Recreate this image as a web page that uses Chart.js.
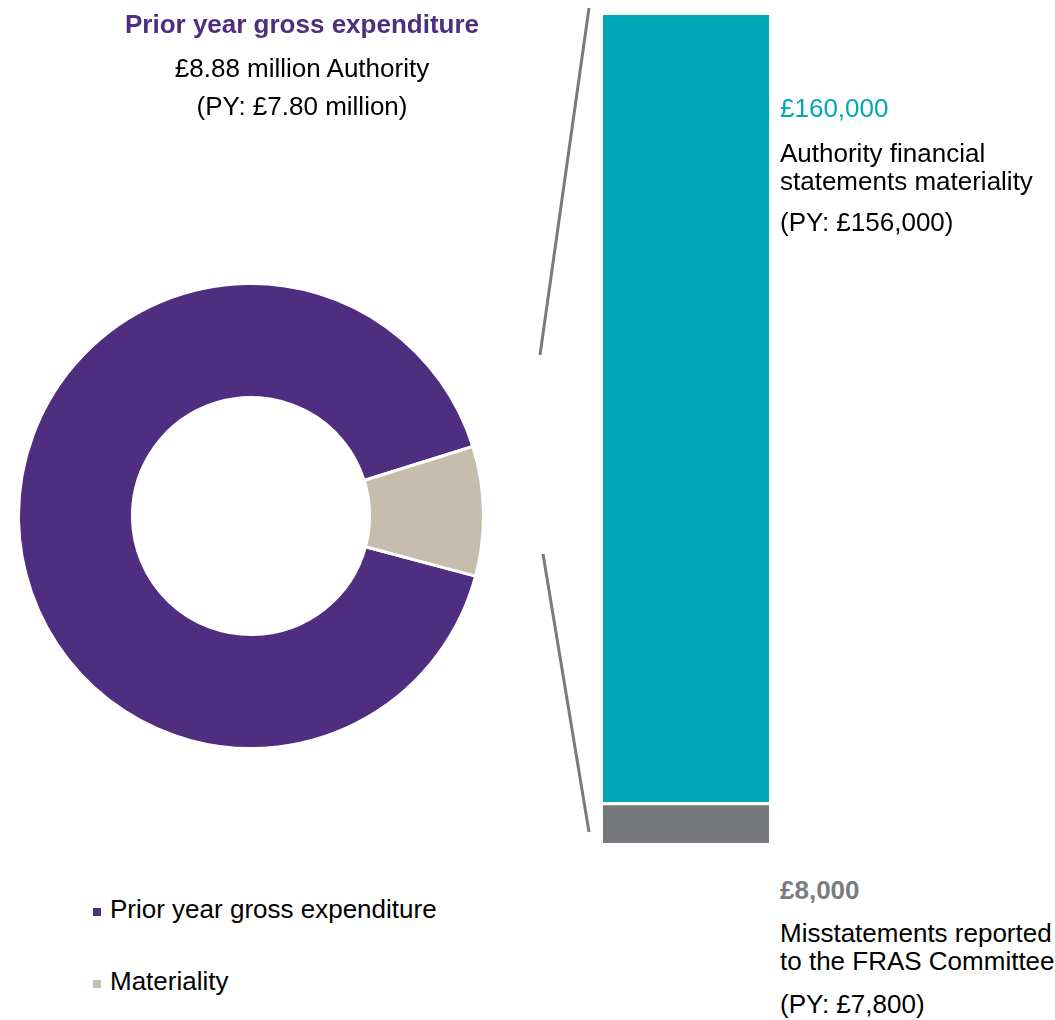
<!DOCTYPE html>
<html>
<head>
<meta charset="utf-8">
<script src="https://cdn.jsdelivr.net/npm/chart.js@4"></script>
<style>
	body { margin: 0; background: #fff; }
	#page { position: relative; width: 1055px; height: 1020px; overflow: hidden; font-family: "Liberation Sans", Arial, sans-serif; font-size: 26px; color: #000; }
	#page canvas { position: absolute; }
	.txt { position: absolute; line-height: 30px; white-space: nowrap; }
	.center { text-align: center; width: 600px; margin-left: -300px; }
	.sq { position: absolute; width: 8px; height: 8px; }
</style>
</head>
<body>
<div id="page">
	<canvas id="donut" width="468" height="468" style="left:16.5px; top:281.5px;"></canvas>
	<canvas id="bar" width="332" height="860" style="left:520px; top:0px;"></canvas>

	<div class="txt center" style="left:302px; top:9px; font-weight:bold; color:#4f2d7f;">Prior year gross expenditure</div>
	<div class="txt center" style="left:302px; top:53px;">£8.88 million Authority</div>
	<div class="txt center" style="left:302px; top:91px;">(PY: £7.80 million)</div>

	<div class="txt" style="left:780px; top:93px; color:#00a7b5;">£160,000</div>
	<div class="txt" style="left:780px; top:138px;">Authority financial</div>
	<div class="txt" style="left:780px; top:166px;">statements materiality</div>
	<div class="txt" style="left:780px; top:207px;">(PY: £156,000)</div>

	<div class="txt" style="left:780px; top:875px; font-weight:bold; color:#7b7c7e;">£8,000</div>
	<div class="txt" style="left:780px; top:918px;">Misstatements reported</div>
	<div class="txt" style="left:780px; top:946px;">to the FRAS Committee</div>
	<div class="txt" style="left:780px; top:989px;">(PY: £7,800)</div>

	<div id="legend"></div>
</div>
<script>
const donutLabels = ["Prior year gross expenditure", "Materiality"];
const donutValues = [91, 9];
const donutColors = ["#4f2d7f", "#c6bdaf"];

const barCategory = ["Materiality"];
const barLabels = ["Misstatements reported to the FRAS Committee", "Authority financial statements materiality"];
const barValues = [8000, 160000];
const barColors = ["#76787b", "#00a9b6"];

// legend drawn as html so it can sit where the reference has it
const legend = document.getElementById("legend");
const legendTops = [894, 966];
donutLabels.forEach((label, i) => {
	const sq = document.createElement("div");
	sq.className = "sq";
	sq.style.left = "93px";
	sq.style.top = (legendTops[i] + 14) + "px";
	sq.style.background = donutColors[i];
	legend.appendChild(sq);

	const t = document.createElement("div");
	t.className = "txt";
	t.style.left = "110px";
	t.style.top = legendTops[i] + "px";
	t.textContent = label;
	legend.appendChild(t);
});

new Chart(document.getElementById("donut"), {
	type: "doughnut",
	data: {
		labels: donutLabels,
		datasets: [{
			data: donutValues,
			backgroundColor: donutColors,
			borderColor: "#ffffff",
			borderWidth: 3,
		}],
	},
	options: {
		responsive: false,
		devicePixelRatio: 1,
		animation: false,
		cutout: "51%",
		rotation: 105,
		plugins: {
			legend: { display: false },
			tooltip: { enabled: false },
		},
	},
});

// the two grey lines that tie the bar back to the doughnut
const connectorLines = {
	id: "connectorLines",
	afterDraw(chart) {
		const meta = chart.getDatasetMeta(1);
		const bar = meta.data[0];
		const yScale = chart.scales.y;
		const left = bar.x - bar.width / 2;
		const top = yScale.getPixelForValue(yScale.max);
		const bottom = yScale.getPixelForValue(0);
		const ctx = chart.ctx;
		ctx.save();
		ctx.strokeStyle = "#7a7a7a";
		ctx.lineWidth = 3;
		ctx.beginPath();
		ctx.moveTo(left - 14, top - 7);
		ctx.lineTo(left - 63, top + 340);
		ctx.moveTo(left - 60, top + 539);
		ctx.lineTo(left - 14, bottom - 11);
		ctx.stroke();
		ctx.restore();
	},
};

new Chart(document.getElementById("bar"), {
	type: "bar",
	data: {
		labels: barCategory,
		datasets: [
			{
				label: barLabels[0],
				data: [barValues[0]],
				backgroundColor: barColors[0],
				borderColor: "#ffffff",
				borderWidth: { top: 2, bottom: 0, left: 0, right: 0 },
				borderSkipped: false,
			},
			{
				label: barLabels[1],
				data: [barValues[1]],
				backgroundColor: barColors[1],
				borderColor: "#ffffff",
				borderWidth: { top: 0, bottom: 2, left: 0, right: 0 },
				borderSkipped: false,
			},
		],
	},
	options: {
		responsive: false,
		devicePixelRatio: 1,
		animation: false,
		datasets: {
			bar: { barThickness: 166 },
		},
		layout: {
			padding: { top: 15, bottom: 17, left: 0, right: 0 },
		},
		plugins: {
			legend: { display: false },
			tooltip: { enabled: false },
		},
		scales: {
			x: { stacked: true, display: false },
			y: {
				stacked: true,
				display: false,
				min: 0,
				max: barValues.reduce((a, b) => a + b, 0),
			},
		},
	},
	plugins: [connectorLines],
});
</script>
</body>
</html>
